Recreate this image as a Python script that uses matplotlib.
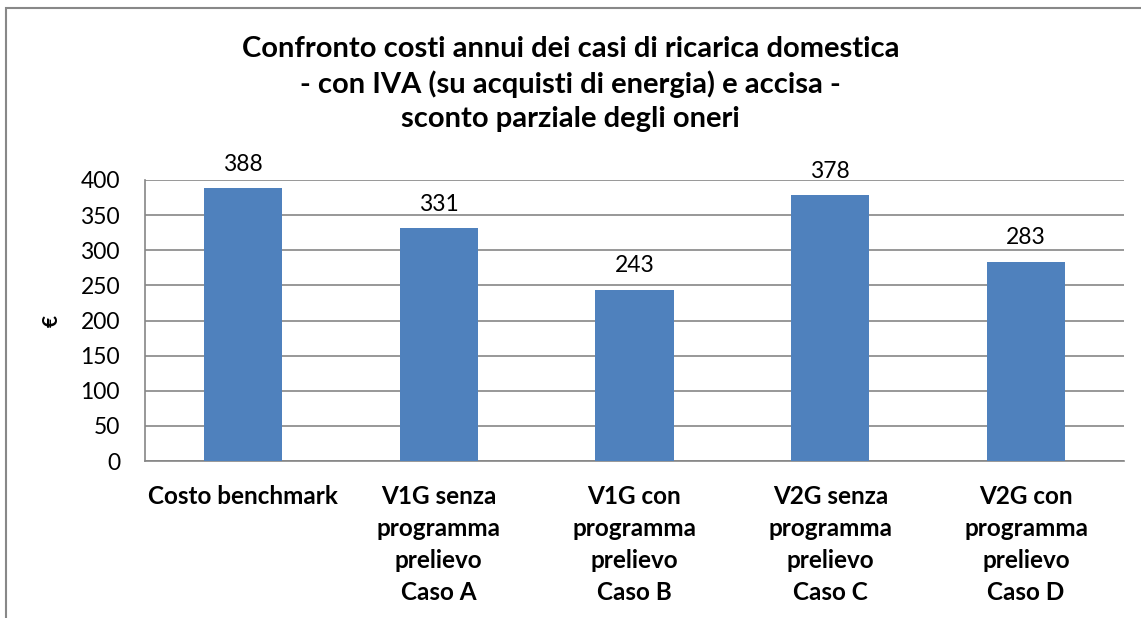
import matplotlib.pyplot as plt
from matplotlib.patches import Rectangle

categories = [
    "Costo benchmark",
    "V1G senza\nprogramma\nprelievo\nCaso A",
    "V1G con\nprogramma\nprelievo\nCaso B",
    "V2G senza\nprogramma\nprelievo\nCaso C",
    "V2G con\nprogramma\nprelievo\nCaso D",
]
values = [388, 331, 243, 378, 283]
yticks = [0, 50, 100, 150, 200, 250, 300, 350, 400]
title = ("Confronto costi annui dei casi di ricarica domestica\n"
         "- con IVA (su acquisti di energia) e accisa -\n"
         "sconto parziale degli oneri")

plt.rcParams["font.family"] = ["Lato", "DejaVu Sans"]

W, H = 1141, 618
fig = plt.figure(figsize=(W / 100, H / 100), dpi=100)
ax = fig.add_axes([145 / W, 1 - 461 / H, (1124 - 145) / W, (461 - 180) / H])

x = list(range(len(categories)))
ax.bar(x, values, width=0.40, color="#4F81BD", zorder=3)
for xi, v in zip(x, values):
    ax.annotate(str(v), (xi, v), xytext=(0, 10), textcoords="offset points",
                ha="center", va="bottom", fontsize=16.5)

ax.set_xlim(-0.5, len(categories) - 0.5)
ax.set_ylim(0, 400)
ax.set_yticks(yticks)
ax.tick_params(axis="y", length=0, labelsize=16.5, pad=18)
ax.tick_params(axis="x", length=0, pad=17)
ax.set_xticks(x)
ax.set_xticklabels(categories, fontsize=17.5, fontweight="bold", linespacing=1.48)
ax.yaxis.grid(True, color="#868686", linewidth=1.2, zorder=0)
for side in ["top", "right"]:
    ax.spines[side].set_visible(False)
for side in ["left", "bottom"]:
    ax.spines[side].set_color("#868686")
    ax.spines[side].set_linewidth(1.2)

fig.text(52 / W, 1 - 321 / H, "€", rotation=90, ha="center", va="center",
         fontsize=15, fontweight="bold")
fig.text(0.5, 1 - 84 / H, title, ha="center", va="center", fontsize=21,
         fontweight="bold", linespacing=1.36)

fig.add_artist(Rectangle((6 / W, -0.1), 1.2, 1 - 8 / H + 0.1,
                         transform=fig.transFigure, fill=False,
                         edgecolor="#888888", linewidth=1.5))

fig.savefig("out.png", dpi=100)
